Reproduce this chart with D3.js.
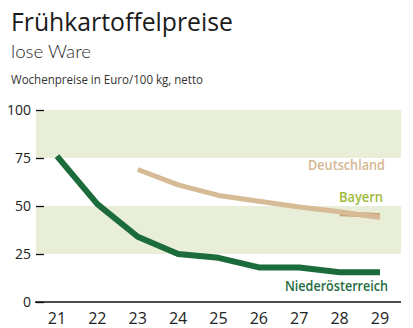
<!DOCTYPE html>
<html>
<head>
<meta charset="utf-8">
<script src="https://cdn.jsdelivr.net/npm/d3@7/dist/d3.min.js"></script>
<style>
  body { margin: 0; background: #fff; }
  text { font-family: "Open Sans", sans-serif; }
</style>
</head>
<body>
<svg id="chart" width="413" height="328"></svg>
<script>
// weeks on the x axis
var weeks = [21, 22, 23, 24, 25, 26, 27, 28, 29];
var yTicks = [0, 25, 50, 75, 100];
// shaded bands (from, to)
var bands = [[75, 100], [25, 50]];

// series values per week
var niederoesterreich = [76, 51, 34, 25, 23, 18, 18, 15.5, 15.5];
var deutschland = [null, null, 69, 61, 55.5, 52.5, 49.5, 47, 44];
var bayern = [null, null, null, null, null, null, null, 46, 45];

var series = [
  { name: 'Bayern', values: bayern, color: '#c9a77c', width: 5, label: null },
  { name: 'Deutschland', values: deutschland, color: '#d6bb96', width: 5,
    label: { text: 'Deutschland', x: 385, y: 170, len: 77, color: '#d4b894' } },
  { name: 'Niederösterreich', values: niederoesterreich, color: '#1c6b3b', width: 6,
    label: { text: 'Niederösterreich', x: 388, y: 291, len: 103, color: '#1f6d3f' } }
];

var svg = d3.select('#chart');

// titles
svg.append('text').attr('x', 11).attr('y', 31)
  .style('font-size', '25px').style('fill', '#1a1a1a')
  .attr('textLength', 222).attr('lengthAdjust', 'spacingAndGlyphs')
  .text('Frühkartoffelpreise');
svg.append('text').attr('x', 11).attr('y', 58)
  .style('font-size', '18px').style('fill', '#2a2a2a')
  .style('font-family', 'Lato, sans-serif').style('font-weight', 300)
  .attr('textLength', 80).attr('lengthAdjust', 'spacingAndGlyphs')
  .text('lose Ware');
svg.append('text').attr('x', 11).attr('y', 84)
  .style('font-size', '12px').style('fill', '#333')
  .attr('textLength', 192).attr('lengthAdjust', 'spacingAndGlyphs')
  .text('Wochenpreise in Euro/100 kg, netto');

var plotLeft = 36, plotRight = 401, plotTop = 110, plotBottom = 302;

var x = d3.scalePoint().domain(weeks).range([57, 380]);
var y = d3.scaleLinear().domain([0, 100]).range([plotBottom, plotTop]);

// bands
svg.append('g').selectAll('rect')
  .data(bands).enter()
  .append('rect')
  .attr('x', plotLeft)
  .attr('width', plotRight - plotLeft)
  .attr('y', d => y(d[1]))
  .attr('height', d => y(d[0]) - y(d[1]))
  .style('fill', '#e9eed9');

// y axis
var yAxis = svg.append('g')
  .attr('transform', `translate(${plotLeft + 8}, 0)`)
  .call(d3.axisLeft(y).tickValues(yTicks).tickSize(8).tickPadding(5));
yAxis.select('.domain').remove();
yAxis.selectAll('line').style('stroke', '#111').style('stroke-width', 1.3);
yAxis.selectAll('text').style('font-size', '14px').style('fill', '#222')
  .style('font-family', '"Open Sans", sans-serif');

// x axis
svg.append('line')
  .attr('x1', plotLeft - 1).attr('x2', plotRight)
  .attr('y1', y(0)).attr('y2', y(0))
  .style('stroke', '#111').style('stroke-width', 1.5);
svg.append('g').selectAll('text')
  .data(weeks).enter()
  .append('text')
  .attr('x', d => x(d))
  .attr('y', 324)
  .attr('text-anchor', 'middle')
  .style('font-size', '16px').style('fill', '#222')
  .text(d => d);

// lines
var line = d3.line()
  .defined(d => d != null)
  .x((d, i) => x(weeks[i]))
  .y(d => y(d));

svg.append('g').selectAll('path')
  .data(series).enter()
  .append('path')
  .attr('d', d => line(d.values))
  .style('fill', 'none')
  .style('stroke', d => d.color)
  .style('stroke-width', d => d.width)
  .style('stroke-linejoin', 'round');

// line labels
var labels = series.filter(d => d.label).map(d => d.label);
labels.push({ text: 'Bayern', x: 383, y: 202, len: 44, color: '#9dbb3a' });
svg.append('g').selectAll('text')
  .data(labels).enter()
  .append('text')
  .attr('x', d => d.x)
  .attr('y', d => d.y)
  .attr('text-anchor', 'end')
  .attr('textLength', d => d.len)
  .attr('lengthAdjust', 'spacingAndGlyphs')
  .style('font-size', '15px')
  .style('font-weight', 600)
  .style('fill', d => d.color)
  .text(d => d.text);
</script>
</body>
</html>
